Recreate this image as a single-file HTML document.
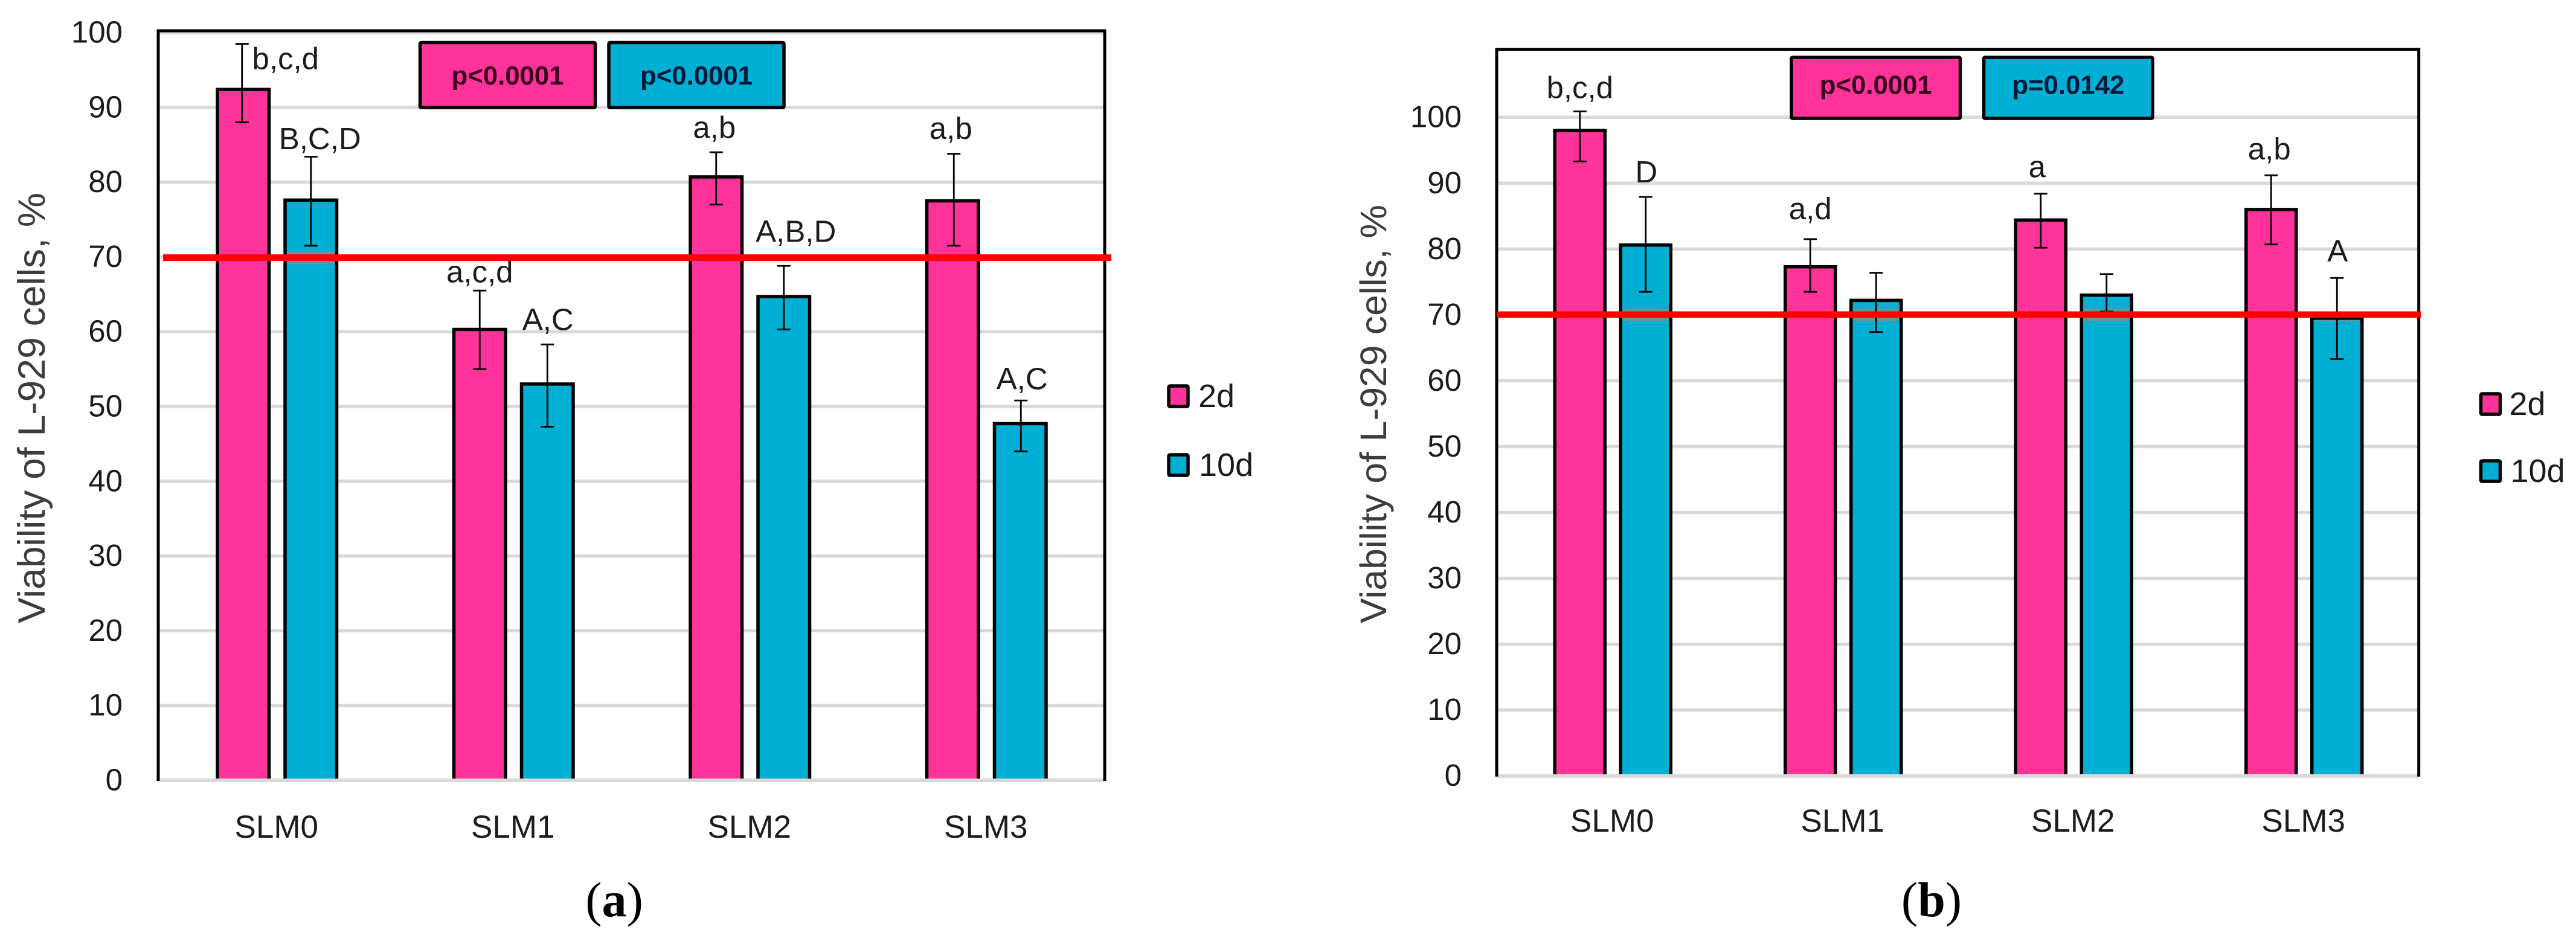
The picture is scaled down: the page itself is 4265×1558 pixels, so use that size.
<!DOCTYPE html>
<html lang="en">
<head>
<meta charset="utf-8">
<title>Viability of L-929 cells</title>
<style>
html,body{margin:0;padding:0;background:#fff;}
svg{display:block;}
text{font-family:"Liberation Sans",Arial,sans-serif;}
</style>
</head>
<body>
<svg id="figure" xmlns="http://www.w3.org/2000/svg" width="4265" height="1558" viewBox="0 0 4265 1558">
<rect x="0" y="0" width="4265" height="1558" fill="#ffffff"/>
</svg>
<script>
// ---- data ----
const categories = ['SLM0', 'SLM1', 'SLM2', 'SLM3'];
const yTicks = [0, 10, 20, 30, 40, 50, 60, 70, 80, 90, 100];
const legendLabels = ['2d', '10d'];

const panelA2d = [92.4, 60.3, 80.7, 77.5];
const panelA10d = [77.6, 53.0, 64.7, 47.7];
const panelA2dHigh = [98.5, 65.5, 84.0, 83.8];
const panelA2dLow = [88.0, 55.0, 77.0, 71.5];
const panelA10dHigh = [83.4, 58.3, 68.8, 50.8];
const panelA10dLow = [71.5, 47.3, 60.3, 44.0];
const panelA2dLetters = ['b,c,d', 'a,c,d', 'a,b', 'a,b'];
const panelA10dLetters = ['B,C,D', 'A,C', 'A,B,D', 'A,C'];
const panelAThreshold = 69.9;
const panelAPValues = ['p<0.0001', 'p<0.0001'];

const panelB2d = [98.0, 77.3, 84.4, 86.0];
const panelB10d = [80.6, 72.2, 73.0, 69.5];
const panelB2dHigh = [100.9, 81.5, 88.4, 91.2];
const panelB2dLow = [93.3, 73.5, 80.2, 80.7];
const panelB10dHigh = [87.9, 76.4, 76.2, 75.6];
const panelB10dLow = [73.5, 67.4, 70.5, 63.3];
const panelB2dLetters = ['b,c,d', 'a,d', 'a', 'a,b'];
const panelB10dLetters = ['D', '', '', 'A'];
const panelBThreshold = 70.05;
const panelBPValues = ['p<0.0001', 'p=0.0142'];

// ---- helpers ----
const NS = 'http://www.w3.org/2000/svg';
const svg = document.getElementById('figure');
const PINK = '#ff3399';
const BLUE = '#00afd3';
const GRID = '#d9d9d9';
const TICK_INK = '#1c1c1c';

function shape(tag, props, parent) {
  const el = document.createElementNS(NS, tag);
  for (const key in props) el.setAttribute(key, props[key]);
  (parent || svg).appendChild(el);
  return el;
}

function drawPanel(p) {
  const g = shape('g', {});
  
  

  const y = v => p.zeroY - v * p.unit;
  const center = i => p.catLeft + (i + 0.5) * p.band;
  const barX = (i, s) => center(i) + (s === 0 ? -p.barOffset : p.barOffset);

  // gridlines (zero line is drawn later, over the bar bases)
  yTicks.forEach(t => {
    if (t === 0) return;
    const line = shape('line', {x1: p.left, x2: p.right, y1: y(t), y2: y(t), stroke: GRID, 'stroke-width': 5.5}, g);
    
    
  });

  // y tick labels
  yTicks.forEach(t => {
    const tick = shape('text', {x: p.tickX, y: y(t) + 16.5, 'text-anchor': 'end', 'font-size': 51, fill: TICK_INK}, g);
    tick.textContent = String(t);
    
    
  });

  // y axis title
  const title = shape('text', {x: p.titleX, y: p.titleY, 'text-anchor': 'middle', 'font-size': p.titleSize, fill: '#3c3c3c', textLength: p.titleLen, lengthAdjust: 'spacingAndGlyphs', transform: 'rotate(-90 ' + p.titleX + ' ' + p.titleY + ')'}, g);
  title.textContent = 'Viability of L-929 cells, %';
  
  

  // bars
  [p.s2d, p.s10d].forEach((series, s) => {
    series.forEach((v, i) => {
      const bar = shape('rect', {x: barX(i, s) - p.barW / 2, y: y(v), width: p.barW, height: p.zeroY - y(v), fill: s === 0 ? PINK : BLUE, stroke: '#000', 'stroke-width': 5.5}, g);
      
      
    });
  });

  // faint shadow of the threshold line on the blue bars
  p.s10d.forEach((v, i) => {
    const top = Math.max(y(v) + 3, y(p.threshold) - 10);
    const bottom = y(p.threshold) + 11;
    if (top >= bottom) return;
    const glow = shape('rect', {x: barX(i, 1) - p.barW / 2 + 3, y: top, width: p.barW - 6, height: bottom - top, fill: '#8a8a8a', opacity: 0.75}, g);
    
    
  });

  // zero gridline
  const zero = shape('line', {x1: p.left, x2: p.right, y1: y(0), y2: y(0), stroke: GRID, 'stroke-width': 6}, g);
  
  

  // frame
  const frame = shape('path', {d: 'M' + p.left + ' ' + (p.zeroY + 1) + 'V' + p.top + 'H' + p.right + 'V' + (p.zeroY + 1), fill: 'none', stroke: '#000', 'stroke-width': 5}, g);
  
  

  // error bars
  [[p.s2d, p.hi2d, p.lo2d], [p.s10d, p.hi10d, p.lo10d]].forEach((set, s) => {
    set[0].forEach((v, i) => {
      const ex = barX(i, s) + (p.errShift[s] ? p.errShift[s][i] : 0);
      const hiY = y(set[1][i]);
      const loY = y(set[2][i]);
      const err = shape('path', {d: 'M' + ex + ' ' + hiY + 'V' + loY + 'M' + (ex - 11) + ' ' + hiY + 'H' + (ex + 11) + 'M' + (ex - 11) + ' ' + loY + 'H' + (ex + 11), fill: 'none', stroke: '#000', 'stroke-width': 2.8}, g);
      
      
    });
  });

  // threshold line
  const red = shape('line', {x1: p.redLeft, x2: p.redRight, y1: y(p.threshold), y2: y(p.threshold), stroke: '#ff0000', 'stroke-width': p.redW}, g);
  
  

  // significance letters
  [[p.letters2d, p.hi2d], [p.letters10d, p.hi10d]].forEach((set, s) => {
    set[0].forEach((txt, i) => {
      if (!txt) return;
      const lab = shape('text', {x: barX(i, s) + p.letterDx[s][i], y: y(set[1][i] + p.letterLift[s][i]), 'text-anchor': 'middle', 'font-size': 51, fill: '#1c1c1c'}, g);
      lab.textContent = txt;
      
      
    });
  });

  // x category labels
  categories.forEach((c, i) => {
    const lab = shape('text', {x: center(i) - 1, y: p.catY, 'text-anchor': 'middle', 'font-size': 53, fill: TICK_INK}, g);
    lab.textContent = c;
    
    
  });

  // p-value boxes
  p.pBoxes.forEach((b, k) => {
    const box = shape('rect', {x: b.x, y: p.pTop, width: b.w, height: p.pH, rx: 2, fill: k === 0 ? PINK : BLUE, stroke: '#000', 'stroke-width': 5.5}, g);
    
    
    const txt = shape('text', {x: b.x + b.w / 2, y: p.pBase, 'text-anchor': 'middle', 'font-size': 44, 'font-weight': 700, fill: k === 0 ? '#38001e' : '#00183a', textLength: 186, lengthAdjust: 'spacingAndGlyphs'}, g);
    txt.textContent = p.pValues[k];
    
    
  });

  // legend
  legendLabels.forEach((name, k) => {
    const e = p.legend[k];
    const sw = shape('rect', {x: p.legendX, y: e.y, width: 32, height: 34, rx: 2, fill: k === 0 ? PINK : BLUE, stroke: '#000', 'stroke-width': 5.5}, g);
    
    
    const lt = shape('text', {x: p.legendX + e.dx, y: e.y + 35, 'font-size': 54, fill: TICK_INK}, g);
    lt.textContent = name;
    
    
  });

  // panel caption
  const cap = shape('text', {x: p.capX, y: 1517, 'text-anchor': 'middle', 'font-size': 82, fill: '#000', style: 'font-family:"Liberation Serif",serif'}, g);
  
  
  const open = shape('tspan', {}, cap);
  open.textContent = '(';
  const letter = shape('tspan', {'font-weight': 700}, cap);
  letter.textContent = p.id;
  const close = shape('tspan', {}, cap);
  close.textContent = ')';
}

drawPanel({
  id: 'a',
  s2d: panelA2d, s10d: panelA10d, hi2d: panelA2dHigh, lo2d: panelA2dLow, hi10d: panelA10dHigh, lo10d: panelA10dLow,
  letters2d: panelA2dLetters, letters10d: panelA10dLetters, threshold: panelAThreshold, pValues: panelAPValues,
  left: 262, right: 1829, top: 51, zeroY: 1292, unit: 12.38, catLeft: 263, band: 391.5, barOffset: 56, barW: 85.5,
  tickX: 203, titleX: 74, titleY: 675.5, titleSize: 63, titleLen: 713,
  errShift: [[-2, 0, 0, 2], [0, 0, 0, 1]],
  letterDx: [[70, 0, -3, -3], [15, 1, 20, 3]],
  letterLift: [[-3.4, 1.1, 1.9, 2.0], [1.0, 1.9, 3.2, 1.5]],
  redLeft: 270, redRight: 1840, redW: 11,
  catY: 1387, pTop: 70.5, pH: 107.5, pBase: 140,
  pBoxes: [{x: 695.5, w: 290}, {x: 1008, w: 290}],
  legendX: 1935, legend: [{y: 639, dx: 49}, {y: 753, dx: 50}],
  capX: 1017
});

drawPanel({
  id: 'b',
  s2d: panelB2d, s10d: panelB10d, hi2d: panelB2dHigh, lo2d: panelB2dLow, hi10d: panelB10dHigh, lo10d: panelB10dLow,
  letters2d: panelB2dLetters, letters10d: panelB10dLetters, threshold: panelBThreshold, pValues: panelBPValues,
  left: 2478, right: 4004.7, top: 81.6, zeroY: 1284.7, unit: 10.905, catLeft: 2479.5, band: 381.5, barOffset: 54.5, barW: 83,
  tickX: 2420, titleX: 2295, titleY: 685.5, titleSize: 61, titleLen: 693,
  errShift: [[0, 0, 0, 0], [0, 0, 0, 0]],
  letterDx: [[0, 0, -6, -3], [1, 0, 0, 1]],
  letterLift: [[2.0, 3.0, 2.5, 2.4], [2.2, 0, 0, 2.5]],
  redLeft: 2478, redRight: 4008, redW: 10.5,
  catY: 1377, pTop: 95, pH: 101, pBase: 155.6,
  pBoxes: [{x: 2966, w: 279.5}, {x: 3284.5, w: 279.5}],
  legendX: 4107.5, legend: [{y: 652, dx: 47}, {y: 763, dx: 49}],
  capX: 3198
});
</script>
</body>
</html>
